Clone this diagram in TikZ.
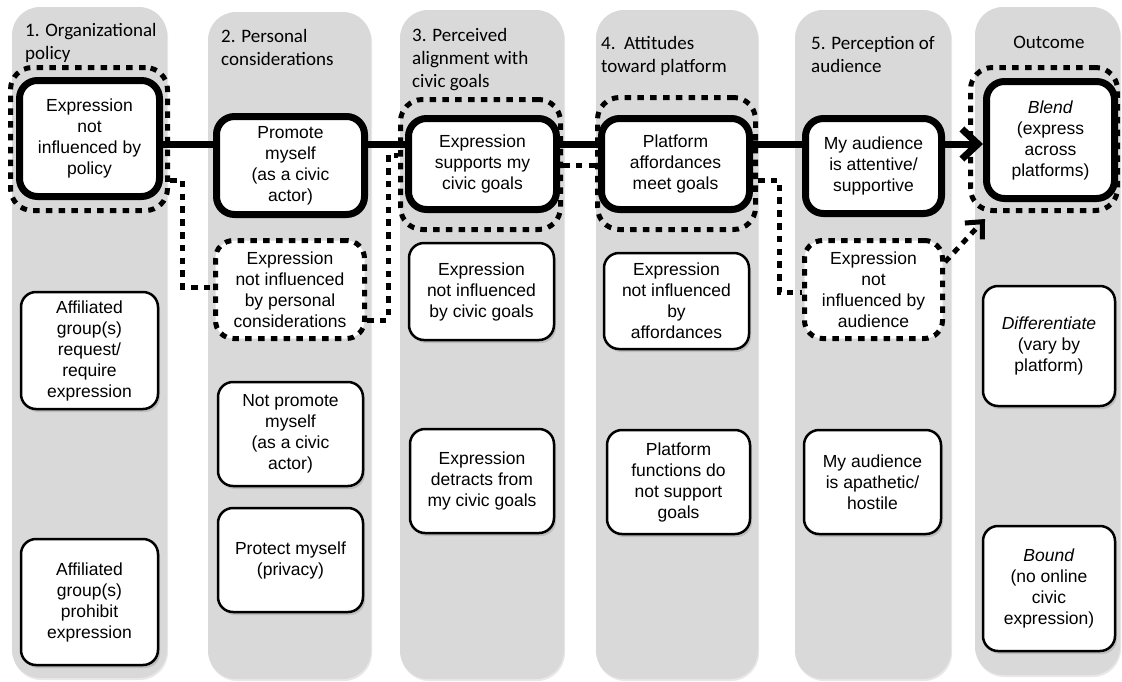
\documentclass[tikz,border=0pt]{standalone}
\usepackage{fontspec}
\setmainfont{Liberation Sans}
\newfontfamily\headfont{Carlito}
\usetikzlibrary{arrows.meta,shadows,calc}
\definecolor{colgray}{RGB}{217,217,217}
\newcommand{\bodysize}{\fontsize{17.5}{21}\selectfont}
\begin{document}
\begin{tikzpicture}[x=1pt,y=-1pt,
  column/.style={fill=colgray, rounded corners=28pt,
    drop shadow={shadow xshift=1pt,shadow yshift=-2pt,opacity=0.18}},
  head/.style={font=\headfont\fontsize{19}{23}\selectfont, align=left, inner sep=0pt, anchor=north west},
  mainbox/.style={draw, line width=7pt, fill=white, rounded corners=18pt, align=center,
    inner sep=0pt, font=\bodysize,
    drop shadow={shadow xshift=2pt,shadow yshift=-3pt,opacity=0.3}},
  plainbox/.style={draw, line width=2.5pt, fill=white, rounded corners=15pt, align=center,
    inner sep=0pt, font=\bodysize,
    drop shadow={shadow xshift=2pt,shadow yshift=-3pt,opacity=0.3}},
  dotbox/.style={draw, line width=5pt, dash pattern=on 6.5pt off 6.3pt, fill=white,
    rounded corners=18pt, align=center, inner sep=0pt, font=\bodysize},
  glow/.style={draw, line width=5pt, dash pattern=on 6.5pt off 6.3pt, rounded corners=22pt,
    inner sep=0pt},
  dotline/.style={line width=5pt, dash pattern=on 6.5pt off 6.3pt},
  mainline/.style={line width=7pt},
]
\useasboundingbox (0,0) rectangle (1122,681);

% columns
\path[column] (12,7) rectangle (167,678);
\path[column] (208,12) rectangle (371,679);
\path[column] (400,10) rectangle (564,679);
\path[column] (596,10) rectangle (758,679);
\path[column] (795,10) rectangle (951,679);
\path[column] (975,7) rectangle (1120,675);

% headers
\node[head] (h1) at (25,23) {1. Organizational\\policy};
\node[head] (h2) at (221,29) {2. Personal\\considerations};
\node[head] (h3) at (412,28) {3. Perceived\\alignment with\\civic goals};
\node[head] (h4) at (601,36) {4.\ \ Attitudes\\toward platform};
\node[head] (h5) at (811,36) {5. Perception of\\audience};
\node[head, anchor=north] (h6) at (1049,36) {Outcome};

% highlight frames
\node[glow, minimum width=157pt, minimum height=143pt] (frame1) at (89,139) {};
\node[glow, minimum width=160pt, minimum height=130pt] (frame3) at (480.5,164.5) {};
\node[glow, minimum width=158pt, minimum height=132pt] (frame4) at (676.5,163.5) {};
\node[glow, minimum width=147pt, minimum height=143pt] (frame6) at (1044,139) {};

% main path boxes
\node[mainbox, minimum width=140pt, minimum height=116pt] (n1) at (89.5,138.5)
  {Expression\\not\\influenced by\\policy};
\node[mainbox, minimum width=148pt, minimum height=98pt] (n2) at (290.5,165.5)
  {Promote\\myself\\(as a civic\\actor)};
\node[mainbox, minimum width=148pt, minimum height=91pt] (n3) at (482.5,164)
  {Expression\\supports my\\civic goals};
\node[mainbox, minimum width=148pt, minimum height=91pt] (n4) at (675.5,164)
  {Platform\\affordances\\meet goals};
\node[mainbox, minimum width=136pt, minimum height=95pt] (n5) at (873.5,166)
  {My audience\\is attentive/\\supportive};
\node[mainbox, minimum width=128pt, minimum height=117pt] (n6) at (1050.5,140)
  {\textit{Blend}\\(express\\across\\platforms)};

% other boxes
\node[plainbox, minimum width=137pt, minimum height=117pt] (a) at (89.5,350.5)
  {Affiliated\\group(s)\\request/\\require\\expression};
\node[plainbox, minimum width=137pt, minimum height=126pt] (b) at (89.5,602)
  {Affiliated\\group(s)\\prohibit\\expression};
\node[dotbox, minimum width=149pt, minimum height=98pt] (c) at (290,289.5)
  {Expression\\not influenced\\by personal\\considerations};
\node[plainbox, minimum width=145pt, minimum height=104pt] (d) at (290.5,434)
  {Not promote\\myself\\(as a civic\\actor)};
\node[plainbox, minimum width=145pt, minimum height=104pt] (e) at (290.5,560)
  {Protect myself\\(privacy)};
\node[plainbox, minimum width=145pt, minimum height=97pt] (f) at (481.5,291.5)
  {Expression\\not influenced\\by civic goals};
\node[plainbox, minimum width=144pt, minimum height=104pt] (g) at (482,481)
  {Expression\\detracts from\\my civic goals};
\node[plainbox, minimum width=145pt, minimum height=96pt] (hh) at (676.5,301)
  {Expression\\not influenced\\by\\affordances};
\node[plainbox, minimum width=143pt, minimum height=104pt] (i) at (678.5,482)
  {Platform\\functions do\\not support\\goals};
\node[dotbox, minimum width=138pt, minimum height=98pt] (j) at (873.5,289.5)
  {Expression\\not\\influenced by\\audience};
\node[plainbox, minimum width=137pt, minimum height=104pt] (k) at (872.5,482)
  {My audience\\is apathetic/\\hostile};
\node[plainbox, minimum width=132pt, minimum height=120pt] (l) at (1049,346)
  {\textit{Differentiate}\\(vary by\\platform)};
\node[plainbox, minimum width=132pt, minimum height=125pt] (m) at (1049,588.5)
  {\textit{Bound}\\(no online\\civic\\expression)};

% main line
\coordinate (ml) at (0,144);
\draw[mainline] (n1.east |- ml) -- (n2.west |- ml);
\draw[mainline] (n2.east |- ml) -- (n3.west |- ml);
\draw[mainline] (n3.east |- ml) -- (n4.west |- ml);
\draw[mainline] (n4.east |- ml) -- (n5.west |- ml);
\draw[mainline, -{Straight Barb[length=16pt,width=30pt]}] (n5.east |- ml) -- (n6.west |- ml);

% dotted connectors
\coordinate (b1) at (182,180);
\coordinate (b2) at (182,287);
\draw[dotline] (frame1.east |- b1) -- (b1) -- (b2) -- (c.west |- b2);
\coordinate (b3) at (388,320);
\coordinate (b4) at (388,155);
\draw[dotline] (c.east |- b3) -- (b3) -- (b4) -- (frame3.west |- b4);
\coordinate (b5) at (0,165);
\draw[dotline] (frame3.east |- b5) -- (frame4.west |- b5);
\coordinate (b6) at (779,180);
\coordinate (b7) at (779,292);
\draw[dotline] (frame4.east |- b6) -- (b6) -- (b7) -- (j.west |- b7);
\coordinate (b8) at (0,262);
\coordinate (tip6) at (985,219);
\draw[dotline, -{Straight Barb[length=13pt,width=24pt]}] (j.east |- b8) -- (tip6);
\end{tikzpicture}
\end{document}
